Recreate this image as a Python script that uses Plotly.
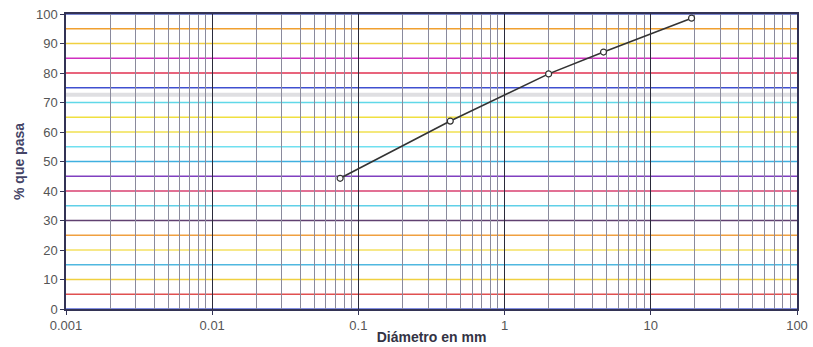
import plotly.graph_objects as go

# Data
diametro_mm = [0.075, 0.425, 2.0, 4.75, 19.0]
pct_pasa = [44.3, 63.7, 79.7, 87.1, 98.6]

x_tick_vals = [0.001, 0.01, 0.1, 1, 10, 100]
x_tick_text = ["0.001", "0.01", "0.1", "1", "10", "100"]
y_tick_vals = [0, 10, 20, 30, 40, 50, 60, 70, 80, 90, 100]
y_grid_vals = [0, 5, 10, 15, 20, 25, 30, 35, 40, 45, 50, 55, 60, 65, 70, 75, 80, 85, 90, 95, 100]
y_grid_colors = ["#5a6ad8", "#e05050", "#f0d040", "#50b8e0", "#f4e060", "#f0a040",
                 "#604070", "#60d0e8", "#d84070", "#8040c0", "#40b0e0", "#70e0f0",
                 "#f0e050", "#f0e040", "#60d8e8", "#4050d0", "#e03050", "#d030c0",
                 "#f0d040", "#f0a030", "#5060c0"]

fig = go.Figure()

shapes = []
for yv, col in zip(y_grid_vals, y_grid_colors):
    shapes.append(dict(type="line", xref="paper", yref="y", x0=0, x1=1, y0=yv, y1=yv,
                       line=dict(color=col, width=1.3), layer="below"))
# faint scan band
shapes.append(dict(type="line", xref="paper", yref="y", x0=0, x1=1, y0=72.6, y1=72.6,
                   line=dict(color="rgba(150,150,160,0.3)", width=4), layer="below"))

fig.add_trace(go.Scatter(
    x=diametro_mm, y=pct_pasa, mode="lines+markers",
    line=dict(color="#333333", width=1.6),
    marker=dict(symbol="circle", size=6, color="white", line=dict(color="#333333", width=1.2)),
    showlegend=False,
))

fig.update_layout(
    width=813, height=347,
    margin=dict(l=66, r=16, t=14, b=38, autoexpand=False),
    paper_bgcolor="white", plot_bgcolor="white",
    font=dict(family="Liberation Sans, Arial, sans-serif", size=13, color="#555555"),
    shapes=shapes,
    xaxis=dict(
        type="log", range=[-3, 2], automargin=False,
        tickvals=x_tick_vals, ticktext=x_tick_text,
        showgrid=True, gridcolor="#2a2a3a", gridwidth=1.4,
        minor=dict(dtick="D1", showgrid=True, gridcolor="#8a8a9c", gridwidth=1, ticks=""),
        ticks="outside", ticklen=4, tickcolor="#333355",
        showline=True, linecolor="#333355", linewidth=1.5, mirror=True,
        title=dict(text="<b>Diámetro en mm</b>", font=dict(size=14, color="#333344"), standoff=0),
        zeroline=False, ticklabeloverflow="allow",
    ),
    yaxis=dict(
        range=[0, 100], tickvals=y_tick_vals, automargin=False,
        showgrid=False,
        ticks="outside", ticklen=4, tickcolor="#333355",
        showline=True, linecolor="#333355", linewidth=1.5, mirror=True,
        title=dict(text="<b>% que pasa</b>", font=dict(size=14, color="#444466"), standoff=8),
        zeroline=False, ticklabeloverflow="allow",
    ),
)

fig.write_html(
    "out.html",
    config={"displayModeBar": False},
    post_script="document.body.style.margin='0';document.body.style.overflow='hidden';",
)
